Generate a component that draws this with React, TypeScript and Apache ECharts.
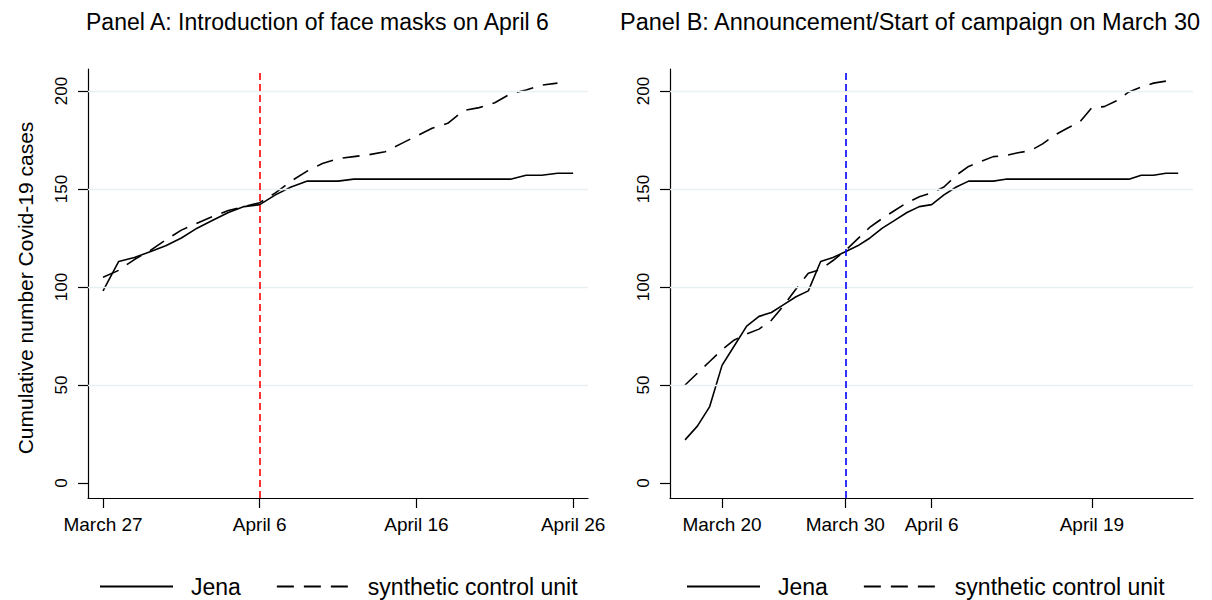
import { useEffect, useRef } from "react";
import * as echarts from "echarts";

// day index: 0 = March 17, 10 = March 27, 20 = April 6, 40 = April 26
const jenaCases = [
    22, 29, 39, 60, 70, 80, 85, 87, 91, 95,
    98, 113, 115, 118, 121, 125, 130, 134, 138, 141,
    142, 147, 151, 154, 154, 154, 155, 155, 155, 155,
    155, 155, 155, 155, 155, 155, 155, 157, 157, 158,
    158
];
const jenaStart = 0;

// Panel A synthetic control, March 27 .. April 25
const synthFaceMasks = [
    105, 108.5, 114, 118.5, 124, 129, 132.5, 136, 139, 141,
    143, 148, 154, 159, 163, 165.5, 166.5, 167.5, 169, 173,
    177, 181, 183.5, 190, 191.5, 194, 198.5, 200.5, 203, 204
];
const synthFaceMasksStart = 10;

// Panel B synthetic control, March 17 .. April 25
const synthCampaign = [
    50, 56, 62, 68, 73, 76, 78.5, 83, 90.5, 99,
    107, 109, 113.5, 118.5, 124.5, 130.5, 135, 139, 143, 146,
    148, 151, 157, 161.5, 164, 166.5, 167, 168.5, 169.5, 173,
    177.5, 181, 184, 191.5, 192, 195, 199.5, 202, 204, 205
];
const synthCampaignStart = 0;

const panelATickDays = [10, 20, 30, 40];
const panelATickLabels = ["March 27", "April 6", "April 16", "April 26"];
const panelBTickDays = [3, 13, 20, 33];
const panelBTickLabels = ["March 20", "March 30", "April 6", "April 19"];

const yTicks = [0, 50, 100, 150, 200];
const gridValues = [50, 100, 150, 200];

const faceMaskDay = 20;
const campaignDay = 13;

const FONT = "'Liberation Sans', Arial, sans-serif";

const toPairs = (values: number[], start: number) =>
    values.map((v, i) => [start + i, v]);

function App() {

    const chartRef =
        useRef<HTMLDivElement>(null);

    useEffect(() => {

        if (!chartRef.current)
            return;

        document.body.style.margin = "0";

        const chart =
            echarts.init(chartRef.current, null, { renderer: "svg" });

        const yAxis = (gridIndex: number) => ({
            type: "value",
            gridIndex,
            min: -7.65,
            max: 211.2,
            splitLine: { show: false },
            axisLine: { show: true, onZero: false, lineStyle: { color: "#000", width: 1.2 } },
            axisTick: {
                show: true,
                length: 10,
                customValues: yTicks,
                lineStyle: { color: "#000", width: 1.2 }
            },
            axisLabel: {
                rotate: 90,
                margin: 18,
                fontSize: 17,
                fontFamily: FONT,
                color: "#000",
                customValues: yTicks
            }
        });

        const xAxis = (
            gridIndex: number,
            min: number,
            max: number,
            days: number[],
            labels: string[]
        ) => ({
            type: "value",
            gridIndex,
            min,
            max,
            splitLine: { show: false },
            axisLine: { show: true, onZero: false, lineStyle: { color: "#000", width: 1.2 } },
            axisTick: {
                show: true,
                length: 10,
                customValues: days,
                lineStyle: { color: "#000", width: 1.2 }
            },
            axisLabel: {
                margin: 17,
                fontSize: 19,
                fontFamily: FONT,
                color: "#000",
                customValues: days,
                formatter: (v: number) =>
                    labels[days.indexOf(Math.round(v))] ?? ""
            }
        });

        const gridSeries = (index: number, eventDay: number, eventColor: string) => ({
            type: "line",
            name: "grid" + index,
            xAxisIndex: index,
            yAxisIndex: index,
            data: toPairs(jenaCases, jenaStart),
            showSymbol: false,
            silent: true,
            z: 1,
            lineStyle: { opacity: 0, width: 0 },
            markLine: {
                silent: true,
                symbol: ["none", "none"],
                label: { show: false },
                data: [
                    ...gridValues.map((v) => ({
                        yAxis: v,
                        lineStyle: { color: "#e8f0f2", width: 1.4, type: "solid" }
                    })),
                    {
                        xAxis: eventDay,
                        lineStyle: { color: eventColor, width: 1.6, type: [7, 4] }
                    }
                ]
            }
        });

        const lineSeries = (
            index: number,
            name: string,
            data: number[][],
            dashed: boolean
        ) => ({
            type: "line",
            name,
            xAxisIndex: index,
            yAxisIndex: index,
            data,
            symbol: "none",
            showSymbol: false,
            z: 3,
            lineStyle: {
                color: "#000",
                width: 1.6,
                type: dashed ? [17, 10] : "solid"
            },
            itemStyle: { color: "#000" }
        });

        const legend = (left: number, top: number) => ({
            left,
            top,
            padding: 0,
            itemWidth: 73,
            itemHeight: 14,
            itemGap: 35,
            selectedMode: false,
            data: ["Jena", "synthetic control unit"],
            itemStyle: { opacity: 0, borderWidth: 0 },
            textStyle: {
                fontSize: 23,
                lineHeight: 23,
                fontFamily: FONT,
                color: "#000",
                padding: [0, 0, 0, 13]
            }
        });

        chart.setOption({
            animation: false,
            backgroundColor: "#fff",
            grid: [
                { left: 88, top: 69, width: 500, height: 429 },
                { left: 670, top: 69, width: 523, height: 429 }
            ],
            xAxis: [
                xAxis(0, 9.04, 40.95, panelATickDays, panelATickLabels),
                xAxis(1, -1.22, 41.2, panelBTickDays, panelBTickLabels)
            ],
            yAxis: [yAxis(0), yAxis(1)],
            legend: [legend(99, 575), legend(686, 575)],
            graphic: [
                {
                    type: "text",
                    left: 86,
                    top: 10,
                    style: {
                        text: "Panel A: Introduction of face masks on April 6",
                        font: `23px ${FONT}`,
                        fill: "#000"
                    }
                },
                {
                    type: "text",
                    left: 620,
                    top: 10,
                    style: {
                        text: "Panel B: Announcement/Start of campaign on March 30",
                        font: `23.5px ${FONT}`,
                        fill: "#000"
                    }
                },
                {
                    type: "text",
                    x: 25,
                    y: 288,
                    rotation: Math.PI / 2,
                    style: {
                        text: "Cumulative number Covid-19 cases",
                        font: `21px ${FONT}`,
                        fill: "#000",
                        textAlign: "center",
                        textVerticalAlign: "middle"
                    }
                }
            ],
            series: [
                gridSeries(0, faceMaskDay, "#ff0000"),
                gridSeries(1, campaignDay, "#0000ff"),
                lineSeries(0, "Jena", toPairs(jenaCases.slice(10), 10), false),
                lineSeries(0, "synthetic control unit", toPairs(synthFaceMasks, synthFaceMasksStart), true),
                lineSeries(1, "Jena", toPairs(jenaCases, jenaStart), false),
                lineSeries(1, "synthetic control unit", toPairs(synthCampaign, synthCampaignStart), true)
            ]
        });

        return () => {
            chart.dispose();
        };

    }, []);

    return (
        <div
            ref={chartRef}
            style={{
                width: "1212px",
                height: "600px"
            }}
        />
    );
}

export default App;
